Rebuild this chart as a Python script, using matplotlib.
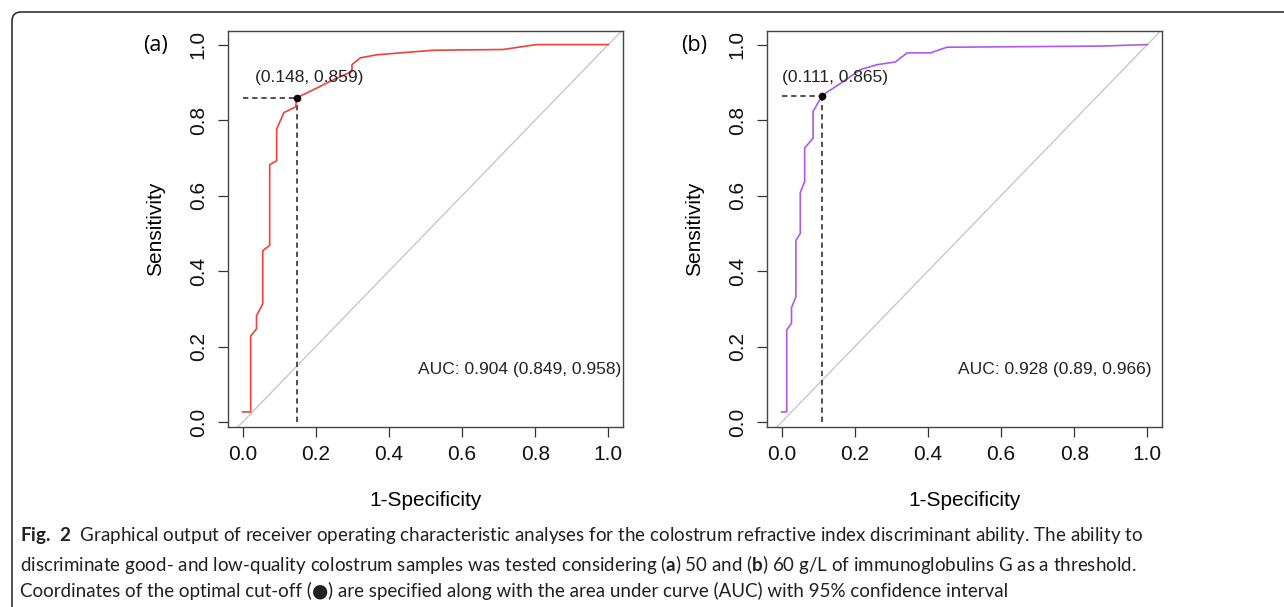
import matplotlib
matplotlib.use("Agg")
import matplotlib.pyplot as plt
from matplotlib.patches import FancyBboxPatch
from matplotlib.transforms import IdentityTransform

plt.rcParams['font.family'] = ['Liberation Sans', 'DejaVu Sans']
plt.rcParams['mathtext.fontset'] = 'custom'
plt.rcParams['mathtext.rm'] = 'Lato'
plt.rcParams['mathtext.bf'] = 'Lato:bold'

# ROC curve (a): 50 g/L threshold
fpr_a = [0.0, 0.022, 0.022, 0.038, 0.038, 0.055, 0.055, 0.074, 0.074, 0.093, 0.093,
         0.113, 0.145, 0.148, 0.203, 0.240, 0.299, 0.299, 0.322, 0.367, 0.431,
         0.521, 0.712, 0.803, 1.0]
tpr_a = [0.027, 0.027, 0.228, 0.247, 0.282, 0.313, 0.454, 0.468, 0.682, 0.692, 0.776,
         0.820, 0.835, 0.859, 0.885, 0.903, 0.929, 0.947, 0.965, 0.973, 0.978,
         0.985, 0.987, 1.0, 1.0]

# ROC curve (b): 60 g/L threshold
fpr_b = [0.0, 0.014, 0.014, 0.027, 0.027, 0.039, 0.039, 0.051, 0.051, 0.063, 0.063,
         0.086, 0.086, 0.111, 0.162, 0.216, 0.262, 0.311, 0.343, 0.407, 0.452,
         0.870, 1.0]
tpr_b = [0.027, 0.027, 0.244, 0.262, 0.303, 0.332, 0.481, 0.500, 0.608, 0.637, 0.726,
         0.752, 0.823, 0.865, 0.898, 0.934, 0.947, 0.954, 0.978, 0.978, 0.993,
         0.996, 1.0]

cut_a = (0.148, 0.859)
cut_b = (0.111, 0.865)
auc_a = "AUC: 0.904 (0.849, 0.958)"
auc_b = "AUC: 0.928 (0.89, 0.966)"
panel_names = ["(a)", "(b)"]
ticks = [0.0, 0.2, 0.4, 0.6, 0.8, 1.0]

W, H = 1284, 607
fig = plt.figure(figsize=(W / 100, H / 100), dpi=100)

# rounded frame around the figure
frame = FancyBboxPatch((12, -30), 1320, H - 12 + 30, boxstyle="round,pad=0,rounding_size=9",
                       transform=IdentityTransform(), fill=False, ec="#222222", lw=1.1)
fig.add_artist(frame)

panels = [
    (228, fpr_a, tpr_a, cut_a, auc_a, "#F2403C", 0.035, 1.035),
    (767, fpr_b, tpr_b, cut_b, auc_b, "#AE58EE", 0.0, 1.01),
]

for i, (left, fx, ty, cut, auc, col, lab_x, auc_x) in enumerate(panels):
    ax = fig.add_axes([left / W, (H - 427) / H, 395 / W, 396 / H])
    ax.set_xlim(-0.04, 1.04)
    ax.set_ylim(-0.013, 1.036)
    # chance line
    ax.plot([-0.1, 1.1], [-0.1, 1.1], color="#C8C8C8", lw=1.0, zorder=1)
    ax.plot(fx, ty, color=col, lw=1.2, zorder=3)
    # optimal cut-off
    ax.plot([0, cut[0]], [cut[1], cut[1]], color="#222222", ls=(0, (3.5, 2.5)), lw=1.1, zorder=2)
    ax.plot([cut[0], cut[0]], [0, cut[1]], color="#222222", ls=(0, (3.5, 2.5)), lw=1.1, zorder=2)
    ax.plot([cut[0]], [cut[1]], "o", color="black", ms=4.5, zorder=4)
    ax.text(lab_x, 0.912, "(%.3f, %.3f)" % cut, fontsize=12.5, ha="left", va="center", color="#222222")
    ax.text(auc_x, 0.14, auc, fontsize=12.5, ha="right", va="center", color="#222222")

    ax.set_xticks(ticks)
    ax.set_yticks(ticks)
    ax.set_xticklabels(["%.1f" % t for t in ticks])
    ax.set_yticklabels(["%.1f" % t for t in ticks], rotation=90, va="center")
    ax.tick_params(axis="both", direction="out", length=7.5, width=0.9, labelsize=15,
                   colors="#333333", labelcolor="#111111")
    ax.tick_params(axis="x", pad=5.5)
    ax.tick_params(axis="y", pad=7)
    for s in ax.spines.values():
        s.set_color("#444444")
        s.set_linewidth(1.0)

    ax.set_xlabel("1-Specificity", fontsize=15)
    ax.set_ylabel("Sensitivity", fontsize=15)
    ax.xaxis.set_label_coords(0.5, (427 - 500) / 396)
    ax.xaxis.label.set_va("center")
    ax.yaxis.set_label_coords((156 - 228) / 395, 0.5)
    ax.yaxis.label.set_va("center")

    fig.text((left - 73) / W, 1 - 45 / H, panel_names[i], fontsize=15.5, ha="center", va="center",
             family=["Open Sans", "DejaVu Sans"])

# caption
cap_font = ['Lato', 'DejaVu Sans']
cap_col = "#231F20"
cap_size = 13.5
fig.text(20 / W, 1 - 536 / H,
         r"$\mathbf{Fig.\ 2}$  Graphical output of receiver operating characteristic analyses for the colostrum "
         "refractive index discriminant ability. The ability to",
         fontsize=cap_size, family=cap_font, color=cap_col, va="center")
fig.text(20 / W, 1 - 565 / H,
         r"discriminate good- and low-quality colostrum samples was tested considering ($\mathbf{a}$) 50 and "
         r"($\mathbf{b}$) 60 g/L of immunoglobulins G as a threshold.",
         fontsize=cap_size, family=cap_font, color=cap_col, va="center")

# third line: the filled circle is set in DejaVu Sans so it is drawn large
renderer = fig.canvas.get_renderer()
x0 = 20
parts = [("Coordinates of the optimal cut-off (", cap_font),
         ("\u25CF", ["DejaVu Sans"]),
         (") are specified along with the area under curve (AUC) with 95% confidence interval", cap_font)]
for txt, fam in parts:
    t = fig.text(x0 / W, 1 - 591 / H, txt, fontsize=cap_size, family=fam, color=cap_col, va="center")
    x0 += t.get_window_extent(renderer).width

fig.savefig("out.png", dpi=100)
